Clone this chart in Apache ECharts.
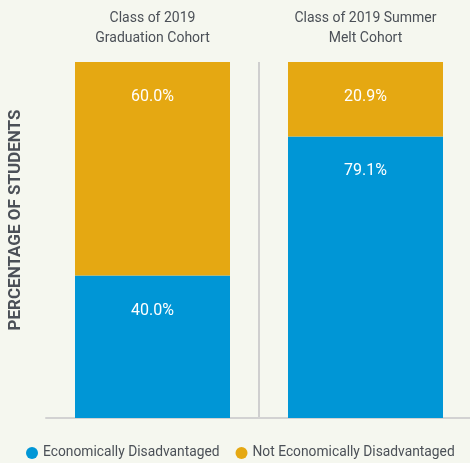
<!DOCTYPE html>
<html>
<head>
<meta charset="utf-8">
<script src="https://cdn.jsdelivr.net/npm/echarts@6/dist/echarts.min.js"></script>
<style>
  html, body { margin: 0; padding: 0; background: #f5f7ef; }
  #main { width: 470px; height: 463px; }
</style>
</head>
<body>
<div id="main"></div>
<script>
// chart data
var cohorts = ['Class of 2019\nGraduation Cohort', 'Class of 2019 Summer\nMelt Cohort'];
var econDisadv = [40.0, 79.1];
var notEconDisadv = [60.0, 20.9];
var seriesNames = ['Economically Disadvantaged', 'Not Economically Disadvantaged'];

var FONT = 'Roboto, "Noto Sans", sans-serif';
var TEXT_COLOR = '#4b5057';

var myChart = echarts.init(document.getElementById('main'));

var barLabel = {
  show: true,
  position: 'insideTop',
  distance: 27,
  color: '#fff',
  fontFamily: FONT,
  fontSize: 16,
  formatter: function (p) { return p.value.toFixed(1) + '%'; }
};

myChart.setOption({
  backgroundColor: '#f5f7ef',
  animation: false,
  grid: { left: 46, right: -2, top: 62, bottom: 45, outerBoundsMode: 'none', containLabel: false },
  legend: {
    bottom: -2,
    left: 21,
    icon: 'circle',
    itemWidth: 12,
    itemHeight: 12,
    itemGap: 16,
    textStyle: { color: TEXT_COLOR, fontFamily: FONT, fontSize: 13.8 },
    data: seriesNames
  },
  xAxis: [{
    type: 'category',
    position: 'top',
    data: cohorts,
    axisLine: { show: false },
    axisTick: { show: false },
    axisLabel: {
      interval: 0,
      color: TEXT_COLOR, fontFamily: FONT, fontSize: 14, lineHeight: 20, margin: 14
    },
    // only the divider between the two cohorts is visible
    splitLine: {
      show: true,
      interval: 0,
      lineStyle: { color: ['rgba(0,0,0,0)', '#cfcfcf', 'rgba(0,0,0,0)'], width: 2 }
    }
  }, {
    type: 'category',
    position: 'bottom',
    data: cohorts,
    axisLine: { show: true, lineStyle: { color: '#d2d2d2', width: 2 } },
    axisTick: { show: false },
    axisLabel: { show: false }
  }],
  yAxis: {
    type: 'value',
    min: 0,
    max: 100,
    axisLine: { show: false },
    axisTick: { show: false },
    axisLabel: { show: false },
    splitLine: { show: false },
    name: 'PERCENTAGE OF STUDENTS',
    nameLocation: 'middle',
    nameRotate: 90,
    nameGap: 22,
    nameTextStyle: {
      color: TEXT_COLOR, fontFamily: FONT, fontSize: 17, fontWeight: 'bold',
      padding: [0, 0, 0, 40]
    }
  },
  series: [{
    name: seriesNames[0],
    type: 'bar',
    stack: 'total',
    barWidth: 155,
    itemStyle: { color: '#0096d6' },
    label: barLabel,
    data: econDisadv
  }, {
    name: seriesNames[1],
    type: 'bar',
    stack: 'total',
    barWidth: 155,
    itemStyle: { color: '#e5a812' },
    label: barLabel,
    data: notEconDisadv
  }]
});
</script>
</body>
</html>
